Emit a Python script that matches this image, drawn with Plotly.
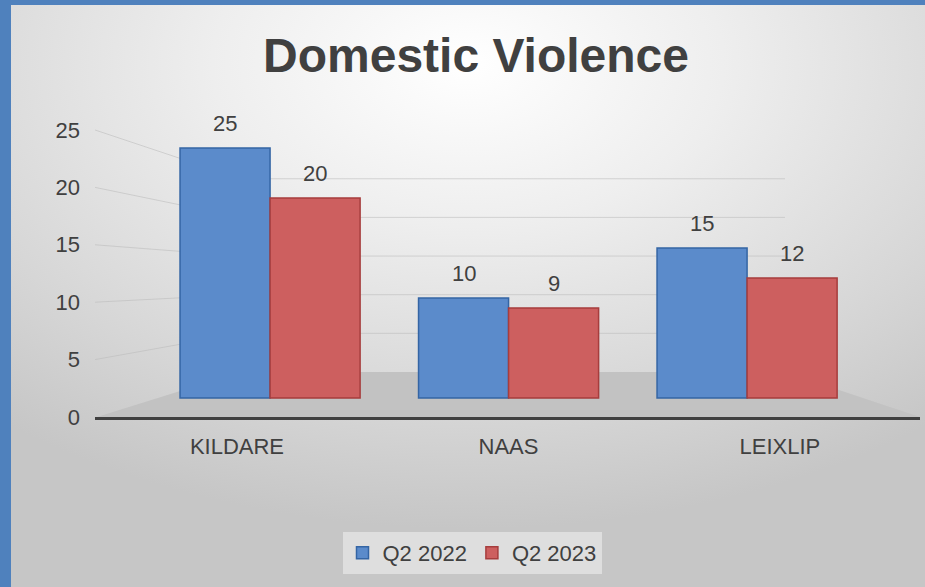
import base64
import plotly.graph_objects as go

# ---------------- data ----------------
categories = ["KILDARE", "NAAS", "LEIXLIP"]
q2_2022 = [25, 10, 15]
q2_2023 = [20, 9, 12]
series_names = ["Q2 2022", "Q2 2023"]
y_ticks = [0, 5, 10, 15, 20, 25]

# ---------------- geometry (pixels) ----------------
W, H = 925, 587
ML, MR, MT, MB = 95, 5, 110, 170
PW, PH = W - ML - MR, H - MT - MB

def px_x(px):
    return (px - ML) / PW

def px_y(py):
    return (H - MB - py) / PH

FONT = "Liberation Sans, Arial, sans-serif"
TXT = "#404040"
BAR_GAP = 0.245

# value axis ranges (front tick axis / bars / back wall)
tick_range = [0, 26.74]
bar_y_range = [-1.9, 28.8]
bar_x_range = [-0.734, 2.725]
lab_x_range = [-0.523, 2.516]
back_floor_py, back_px_per_unit = 372, 7.73
back_left_px, back_right_px = 241, 785

fig = go.Figure()

colors = ["#5b8bcb", "#cd5f5f"]
lines = ["#3465a4", "#a63d3d"]
for name, vals, c, lc in zip(series_names, [q2_2022, q2_2023], colors, lines):
    fig.add_trace(go.Bar(
        x=categories, y=vals, name=name,
        marker=dict(color=c, line=dict(color=lc, width=1.5)),
        xaxis="x", yaxis="y", hoverinfo="name+y",
    ))

# helper trace holding the visible tick axes
fig.add_trace(go.Scatter(
    x=categories, y=q2_2022, xaxis="x2", yaxis="y2", mode="markers",
    marker=dict(opacity=0), showlegend=False, hoverinfo="skip",
))

# data labels
half = (1 - BAR_GAP) / 2
annotations = []
for j, vals in enumerate([q2_2022, q2_2023]):
    for i, v in enumerate(vals):
        annotations.append(dict(
            x=i + (j - 0.5) * half, y=v, xref="x", yref="y",
            text=str(v), showarrow=False, yshift=25, yanchor="middle",
            font=dict(family=FONT, size=22, color=TXT),
        ))

# floor and perspective grid lines
shapes = [dict(
    type="path", xref="paper", yref="paper", layer="below",
    path=(f"M {px_x(97)},{px_y(417)} L {px_x(back_left_px)},{px_y(back_floor_py)} "
          f"L {px_x(back_right_px)},{px_y(back_floor_py)} L {px_x(920)},{px_y(417)} Z"),
    fillcolor="#c2c2c2", line=dict(width=0),
)]
for v in y_ticks[1:]:
    fy = v / tick_range[1]
    by = px_y(back_floor_py - v * back_px_per_unit)
    shapes.append(dict(
        type="path", xref="paper", yref="paper", layer="below",
        path=f"M 0,{fy} L {px_x(back_left_px)},{by} L {px_x(back_right_px)},{by}",
        line=dict(color="rgba(185,185,185,0.55)", width=1),
    ))

svg = ('<svg xmlns="http://www.w3.org/2000/svg" width="914" height="582" '
       'viewBox="0 0 914 582" preserveAspectRatio="none"><defs>'
       '<radialGradient id="g" cx="0.5" cy="0.1" r="0.8">'
       '<stop offset="0" stop-color="#ffffff"/><stop offset="0.35" stop-color="#eeeeee"/>'
       '<stop offset="0.75" stop-color="#d6d6d6"/><stop offset="1" stop-color="#c6c6c6"/>'
       '</radialGradient></defs><rect width="914" height="582" fill="url(#g)"/></svg>')
bg_uri = "data:image/svg+xml;base64," + base64.b64encode(svg.encode()).decode()

fig.update_layout(
    width=W, height=H,
    margin=dict(l=ML, r=MR, t=MT, b=MB, pad=0),
    paper_bgcolor="#4f81bd", plot_bgcolor="rgba(0,0,0,0)",
    images=[dict(source=bg_uri, xref="paper", yref="paper",
                 x=px_x(11), y=px_y(5), sizex=914 / PW, sizey=582 / PH,
                 xanchor="left", yanchor="top", sizing="stretch", layer="below")],
    title=dict(text="Domestic Violence", x=476 / W, y=1 - 55 / H,
               xanchor="center", yanchor="middle", xref="container", yref="container",
               font=dict(family=FONT, size=48, color=TXT, weight="bold")),
    barmode="group", bargap=BAR_GAP, bargroupgap=0,
    xaxis=dict(range=bar_x_range, showticklabels=False, showgrid=False,
               zeroline=False, showline=False, fixedrange=True),
    yaxis=dict(range=bar_y_range, showticklabels=False, showgrid=False,
               zeroline=False, showline=False, fixedrange=True),
    xaxis2=dict(overlaying="x", anchor="y2", side="bottom", type="category",
                range=lab_x_range, showgrid=False, zeroline=False,
                showline=True, linecolor="#404040", linewidth=3, ticks="",
                ticklabelstandoff=8,
                tickfont=dict(family=FONT, size=22, color=TXT)),
    yaxis2=dict(overlaying="y", anchor="x2", side="left", range=tick_range,
                tickvals=y_ticks, showgrid=False, zeroline=False, showline=False,
                ticks="", ticklabelstandoff=14,
                tickfont=dict(family=FONT, size=22, color=TXT)),
    legend=dict(orientation="h", x=px_x(472), y=px_y(553), xanchor="center",
                yanchor="middle", bgcolor="rgba(238,238,238,0.6)",
                font=dict(family=FONT, size=22, color=TXT), traceorder="normal"),
    annotations=annotations, shapes=shapes,
)

fig.write_html("out.html", config={"displayModeBar": False},
               post_script="document.body.style.margin='0';document.body.style.overflow='hidden';")
